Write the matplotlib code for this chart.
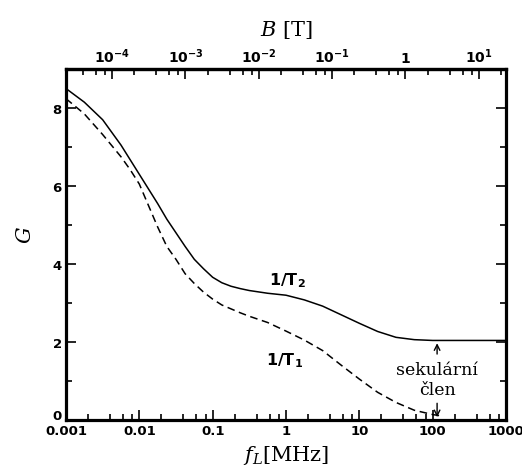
import numpy as np
import matplotlib.pyplot as plt
import matplotlib.transforms as mtransforms
from matplotlib.ticker import LogLocator, FixedLocator, FixedFormatter, NullFormatter

# Larmorova frekvence [MHz] (log10) a relaxační rychlosti G
logf_T2 = [-3.0, -2.75, -2.5, -2.25, -2.0, -1.75, -1.625, -1.5, -1.375, -1.25,
           -1.125, -1.0, -0.875, -0.75, -0.625, -0.5, -0.25, 0.0, 0.25, 0.5,
           0.75, 1.0, 1.25, 1.5, 1.75, 2.0, 3.0]
G_T2 = [8.50, 8.15, 7.70, 7.05, 6.30, 5.55, 5.15, 4.80, 4.45, 4.12,
        3.88, 3.66, 3.52, 3.43, 3.37, 3.32, 3.25, 3.20, 3.08, 2.92,
        2.70, 2.48, 2.27, 2.12, 2.06, 2.04, 2.04]

logf_T1 = [-3.0, -2.75, -2.5, -2.25, -2.125, -2.0, -1.875, -1.75, -1.625, -1.5,
           -1.375, -1.25, -1.125, -1.0, -0.875, -0.75, -0.625, -0.5, -0.25, 0.0,
           0.25, 0.5, 0.75, 1.0, 1.25, 1.5, 1.75, 2.0, 2.1]
G_T1 = [8.24, 7.85, 7.32, 6.75, 6.42, 6.05, 5.50, 4.95, 4.45, 4.12,
        3.75, 3.50, 3.28, 3.10, 2.95, 2.85, 2.75, 2.66, 2.50, 2.28,
        2.05, 1.78, 1.41, 1.05, 0.71, 0.45, 0.25, 0.14, 0.11]

B_ticks = [1e-4, 1e-3, 1e-2, 1e-1, 1, 10]
B_labels = [r"$\mathbf{10^{-4}}$", r"$\mathbf{10^{-3}}$", r"$\mathbf{10^{-2}}$",
            r"$\mathbf{10^{-1}}$", r"$\mathbf{1}$", r"$\mathbf{10^{1}}$"]
f_ticks = [0.001, 0.01, 0.1, 1, 10, 100, 1000]
f_labels = ["0.001", "0.01", "0.1", "1", "10", "100", "1000"]
gamma = 42.58  # MHz/T pro proton

f_T2 = [10 ** v for v in logf_T2]
f_T1 = [10 ** v for v in logf_T1]

plt.rcParams["mathtext.fontset"] = "dejavusans"

fig = plt.figure(figsize=(5.22, 4.77), dpi=100)
ax = fig.add_axes([0.1264, 0.1174, 0.8429, 0.7358])

ax.plot(f_T2, G_T2, color="black", lw=1.1)
ax.plot(f_T1, G_T1, color="black", lw=1.1, dashes=(5, 3))

ax.set_xscale("log")
ax.set_xlim(0.001, 1000)
ax.set_ylim(0, 9)

ax.xaxis.set_major_locator(FixedLocator(f_ticks))
ax.xaxis.set_major_formatter(FixedFormatter(f_labels))
ax.xaxis.set_minor_locator(LogLocator(base=10, subs=[2, 4, 6, 8], numticks=20))
ax.xaxis.set_minor_formatter(NullFormatter())
ax.set_yticks([0, 2, 4, 6, 8])
ax.set_yticks([1, 3, 5, 7], minor=True)

ax.tick_params(which="both", direction="in", top=False, right=True, width=1.2,
               labelsize=9.5)
ax.tick_params(which="major", length=7, pad=3)
ax.tick_params(which="minor", length=4.5)
for lab in ax.get_xticklabels() + ax.get_yticklabels():
    lab.set_fontweight("bold")
# nula na ose y trochu výš, ať se nepere s 0.001
zero_lab = ax.get_yticklabels()[0]
zero_lab.set_transform(zero_lab.get_transform() +
                       mtransforms.ScaledTranslation(0, 4 / 72, fig.dpi_scale_trans))
for sp in ax.spines.values():
    sp.set_linewidth(2.3)

# horní osa: magnetická indukce
sec = ax.secondary_xaxis("top", functions=(lambda f: f / gamma, lambda b: b * gamma))
sec.set_xscale("log")
sec.xaxis.set_major_locator(FixedLocator(B_ticks))
sec.xaxis.set_major_formatter(FixedFormatter(B_labels))
sec.xaxis.set_minor_locator(LogLocator(base=10, subs=[2, 4, 6, 8], numticks=20))
sec.xaxis.set_minor_formatter(NullFormatter())
sec.tick_params(which="both", direction="in", width=1.2, labelsize=10)
sec.tick_params(which="major", length=7, pad=3)
sec.tick_params(which="minor", length=4.5)
sec.spines["top"].set_linewidth(2.3)

ax.set_xlabel(r"$f_L$[MHz]", fontsize=15, family="DejaVu Serif",
              math_fontfamily="dejavuserif", labelpad=4)
sec.set_xlabel(r"$B$ [T]", fontsize=15, family="DejaVu Serif",
               math_fontfamily="dejavuserif", labelpad=8)
ax.set_ylabel(r"$G$", fontsize=15, math_fontfamily="dejavuserif")
ax.yaxis.set_label_coords(-0.07, 0.53)

ax.text(1.05, 3.6, r"$\mathbf{1/T_2}$", fontsize=11.5, ha="center", va="center")
ax.text(0.95, 1.56, r"$\mathbf{1/T_1}$", fontsize=11.5, ha="center", va="center")

ax.annotate("", xy=(115, 2.04), xytext=(115, 1.62),
            arrowprops=dict(arrowstyle="->", lw=1.0, color="black"))
ax.annotate("", xy=(115, 0.0), xytext=(115, 0.5),
            arrowprops=dict(arrowstyle="->", lw=1.0, color="black"))
ax.text(115, 1.3, "sekulární", fontsize=12.5, family="DejaVu Serif",
        ha="center", va="center")
ax.text(115, 0.77, "člen", fontsize=12.5, family="DejaVu Serif",
        ha="center", va="center")

fig.savefig("out.png", dpi=100)
